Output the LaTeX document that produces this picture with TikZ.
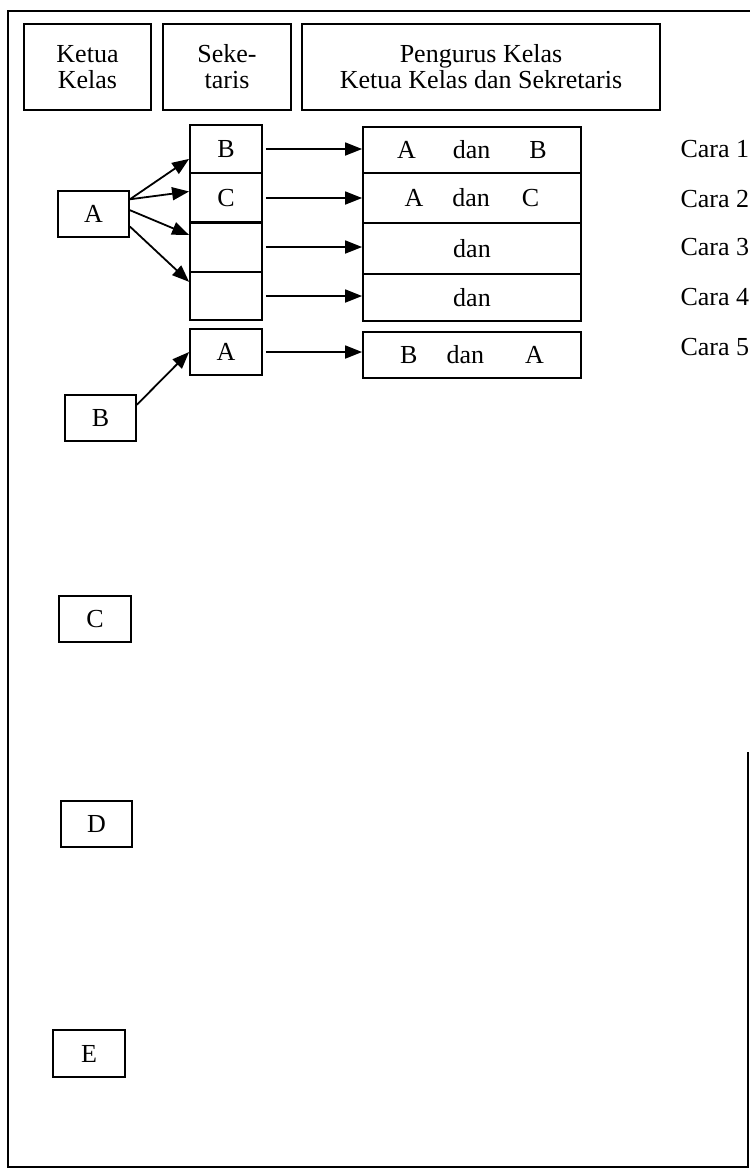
\documentclass[tikz,border=0pt]{standalone}
\usepackage{fontspec}
\setmainfont{Liberation Serif}
\usetikzlibrary{arrows.meta}

\begin{document}
\begin{tikzpicture}[x=1pt, y=-1pt,
    font=\fontsize{26}{26}\selectfont,
    kotak/.style={draw, line width=1.8pt, inner sep=0pt, minimum width=71pt, minimum height=46pt},
    panah/.style={line width=1.8pt, -{Triangle[length=17pt,width=13pt]}}]
    \useasboundingbox (0,0) rectangle (750,1170);
    \draw[line width=2pt] (748,752) -- (748,1167) -- (8,1167) -- (8,11) -- (750,11);
    % judul kolom
    \node[kotak, minimum width=127pt, minimum height=86pt, align=center] (ketua) at (87.5,67) {Ketua\\Kelas};
    \node[kotak, minimum width=128pt, minimum height=86pt, align=center] (seke) at (227,67) {Seke-\\taris};
    \node[kotak, minimum width=358pt, minimum height=86pt, align=center] (pengurus) at (481,67) {Pengurus Kelas\\Ketua Kelas dan Sekretaris};
    % ketua kelas
    \node[kotak] (a) at (93.5,214) {A};
    \node[kotak] (b) at (100.5,418) {B};
    \node[kotak, minimum width=72pt] (c) at (95,619) {C};
    \node[kotak] (d) at (96.5,824) {D};
    \node[kotak, minimum width=72pt, minimum height=47pt] (e) at (89,1053.5) {E};
    % sekretaris
    \node[kotak, minimum width=72pt, minimum height=48pt] (s1) at (226,149) {B};
    \node[kotak, minimum width=72pt, minimum height=50pt] (s2) at (226,198) {C};
    \node[kotak, minimum width=72pt, minimum height=50pt] (s3) at (226,247) {};
    \node[kotak, minimum width=72pt, minimum height=48pt] (s4) at (226,296) {};
    \node[kotak, minimum width=72pt] (s5) at (226,352) {A};
    % pengurus kelas
    \node[kotak, minimum width=218pt] (p1) at (472,150) {A\hspace{37pt}dan\hspace{39pt}B};
    \node[kotak, minimum width=218pt, minimum height=50pt] (p2) at (472,198) {A\hspace{29pt}dan\hspace{32pt}C};
    \node[kotak, minimum width=218pt, minimum height=51pt] (p3) at (472,248.5) {dan};
    \node[kotak, minimum width=218pt, minimum height=47pt] (p4) at (472,297.5) {dan};
    \node[kotak, minimum width=218pt] (p5) at (472,355) {B\hspace{29pt}dan\hspace{41pt}A\hspace{35pt}};
    % cara
    \node[anchor=west] (cara1) at (677,149) {Cara 1};
    \node[anchor=west] (cara2) at (677,199) {Cara 2};
    \node[anchor=west] (cara3) at (677,247) {Cara 3};
    \node[anchor=west] (cara4) at (677,297) {Cara 4};
    \node[anchor=west] (cara5) at (677,347) {Cara 5};
    % panah
    \draw[panah] (a.22) -- (s1.195);
    \draw[panah] (a.22) -- (s2.170);
    \draw[panah] (a.6) -- (s3.162);
    \draw[panah] (a.-19) -- (s4.159);
    \draw[panah] (b.20) -- (s5.west);
    \draw[panah, shorten <=3pt] (s1.east) -- (s1.east -| p1.west);
    \draw[panah, shorten <=3pt] (s2.east) -- (s2.east -| p2.west);
    \draw[panah, shorten <=3pt] (s3.east) -- (s3.east -| p3.west);
    \draw[panah, shorten <=3pt] (s4.east) -- (s4.east -| p4.west);
    \draw[panah, shorten <=3pt] (s5.east) -- (s5.east -| p5.west);
\end{tikzpicture}
\end{document}
